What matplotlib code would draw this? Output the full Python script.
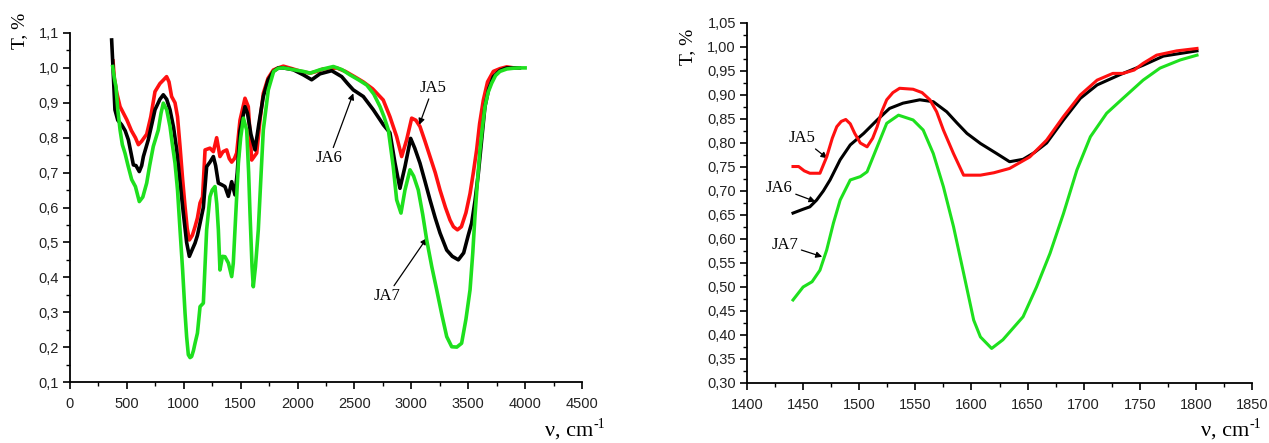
import matplotlib
matplotlib.use("Agg")
import matplotlib.pyplot as plt
from matplotlib.ticker import MultipleLocator, FuncFormatter

# ---------------- data: left panel (full spectrum) ----------------
ja5_full_x = [378, 390, 410, 440, 470, 500, 540, 575, 601, 630, 674, 710, 747, 790, 820, 849, 870, 893, 923, 945,
              967, 990, 1011, 1030, 1049, 1075, 1099, 1120, 1143, 1165, 1187, 1230, 1260, 1289, 1318, 1345, 1377, 1400,
              1421, 1445, 1465, 1494, 1515, 1538, 1567, 1597, 1641, 1670, 1699, 1740, 1787, 1830, 1875, 1950, 2030,
              2110, 2170, 2225, 2290, 2344, 2420, 2500, 2577, 2660, 2753, 2812, 2871, 2915, 2959, 3003, 3040, 3076,
              3120, 3164, 3210, 3252, 3300, 3340, 3370, 3405, 3440, 3480, 3516, 3545, 3574, 3600, 3633, 3670, 3721,
              3780, 3838, 3900]
ja5_full_y = [1.02, 0.97, 0.93, 0.889, 0.87, 0.851, 0.82, 0.80, 0.78, 0.79, 0.81, 0.86, 0.932, 0.955, 0.965, 0.975,
              0.96, 0.918, 0.90, 0.86, 0.775, 0.68, 0.603, 0.54, 0.507, 0.52, 0.545, 0.57, 0.613, 0.63, 0.765, 0.77,
              0.76, 0.80, 0.746, 0.76, 0.765, 0.74, 0.73, 0.74, 0.756, 0.85, 0.88, 0.913, 0.889, 0.736, 0.756, 0.85,
              0.927, 0.97, 0.994, 1.0, 1.005, 0.998, 0.99, 0.985, 0.99, 0.997, 0.998, 1.0, 0.99, 0.975, 0.96, 0.94,
              0.908, 0.86, 0.803, 0.746, 0.794, 0.856, 0.85, 0.832, 0.79, 0.746, 0.70, 0.65, 0.60, 0.564, 0.545,
              0.536, 0.545, 0.585, 0.64, 0.70, 0.765, 0.84, 0.908, 0.96, 0.99, 0.998, 1.003, 1.0]

ja6_full_x = [366, 375, 385, 395, 420, 454, 485, 513, 540, 557, 580, 609, 630, 645, 688, 720, 747, 790, 820, 850,
              879, 910, 938, 965, 996, 1025, 1049, 1075, 1099, 1120, 1143, 1172, 1201, 1230, 1260, 1280, 1304, 1335,
              1362, 1392, 1421, 1450, 1470, 1494, 1538, 1560, 1590, 1626, 1660, 1699, 1740, 1787, 1830, 1875, 1960,
              2051, 2124, 2197, 2300, 2388, 2440, 2490, 2578, 2666, 2754, 2812, 2856, 2900, 2944, 2994, 3030, 3076,
              3120, 3164, 3210, 3252, 3311, 3360, 3413, 3460, 3500, 3530, 3560, 3589, 3620, 3647, 3680, 3721, 3780,
              3838, 3900, 3950]
ja6_full_y = [1.08, 1.02, 0.95, 0.88, 0.85, 0.837, 0.82, 0.794, 0.75, 0.722, 0.72, 0.703, 0.72, 0.746, 0.794, 0.84,
              0.88, 0.91, 0.923, 0.91, 0.88, 0.83, 0.765, 0.68, 0.584, 0.50, 0.46, 0.48, 0.498, 0.52, 0.555, 0.60,
              0.717, 0.73, 0.746, 0.72, 0.67, 0.665, 0.66, 0.632, 0.674, 0.636, 0.70, 0.82, 0.889, 0.87, 0.81, 0.765,
              0.84, 0.918, 0.965, 0.99, 1.0, 1.0, 0.995, 0.98, 0.966, 0.983, 0.992, 0.975, 0.955, 0.937, 0.918, 0.88,
              0.837, 0.814, 0.728, 0.655, 0.717, 0.798, 0.77, 0.727, 0.675, 0.622, 0.57, 0.527, 0.478, 0.46, 0.45,
              0.47, 0.52, 0.555, 0.62, 0.698, 0.80, 0.889, 0.94, 0.975, 0.993, 1.0, 1.0, 1.0]

ja7_full_x = [375, 390, 404, 420, 440, 460, 483, 510, 542, 575, 609, 640, 674, 700, 732, 776, 800, 820, 850, 879,
              900, 923, 945, 967, 990, 1011, 1025, 1040, 1055, 1069, 1085, 1099, 1120, 1143, 1172, 1185, 1201, 1230,
              1250, 1274, 1290, 1304, 1318, 1340, 1362, 1392, 1421, 1435, 1450, 1480, 1500, 1524, 1553, 1570, 1582,
              1600, 1611, 1630, 1655, 1680, 1699, 1743, 1790, 1831, 1875, 1960, 2050, 2110, 2200, 2315, 2390, 2461,
              2540, 2608, 2670, 2725, 2760, 2798, 2841, 2871, 2909, 2944, 2988, 3020, 3061, 3100, 3135, 3180, 3223,
              3270, 3311, 3355, 3400, 3442, 3480, 3516, 3540, 3559, 3580, 3603, 3625, 3647, 3675, 3706, 3740, 3779,
              3840, 3896, 3950, 4000]
ja7_full_y = [1.004, 0.97, 0.946, 0.88, 0.822, 0.78, 0.756, 0.72, 0.68, 0.66, 0.617, 0.63, 0.67, 0.72, 0.775, 0.822,
              0.87, 0.899, 0.88, 0.832, 0.78, 0.727, 0.65, 0.536, 0.42, 0.298, 0.23, 0.178, 0.17, 0.173, 0.19, 0.211,
              0.24, 0.316, 0.326, 0.42, 0.536, 0.631, 0.65, 0.66, 0.61, 0.536, 0.421, 0.46, 0.459, 0.441, 0.402, 0.44,
              0.536, 0.727, 0.80, 0.856, 0.822, 0.70, 0.584, 0.43, 0.373, 0.43, 0.536, 0.70, 0.822, 0.937, 0.99,
              0.999, 1.0, 0.995, 0.99, 0.985, 0.995, 1.004, 0.995, 0.98, 0.965, 0.951, 0.925, 0.889, 0.86, 0.822,
              0.717, 0.622, 0.584, 0.65, 0.708, 0.69, 0.65, 0.58, 0.507, 0.43, 0.364, 0.29, 0.23, 0.201, 0.2, 0.211,
              0.28, 0.364, 0.47, 0.574, 0.67, 0.765, 0.83, 0.889, 0.93, 0.956, 0.978, 0.99, 0.997, 0.999, 1.0, 1.0]

# ---------------- data: right panel (1440-1800 cm-1) ----------------
ja5_zoom_x = [1441, 1446, 1451, 1456, 1465, 1471, 1476, 1480, 1484, 1488, 1492, 1496, 1501, 1507, 1512, 1516, 1520,
              1524.5, 1530, 1536, 1548, 1556, 1563, 1569, 1575, 1584, 1593, 1600, 1608, 1620, 1634, 1652, 1667, 1682,
              1697, 1712, 1726, 1735, 1745, 1753, 1765, 1783, 1801]
ja5_zoom_y = [0.751, 0.751, 0.742, 0.737, 0.737, 0.771, 0.81, 0.834, 0.845, 0.849, 0.84, 0.82, 0.80, 0.792, 0.81,
              0.834, 0.865, 0.89, 0.905, 0.914, 0.912, 0.905, 0.89, 0.865, 0.827, 0.778, 0.733, 0.733, 0.733, 0.738,
              0.747, 0.771, 0.806, 0.855, 0.9, 0.931, 0.945, 0.945, 0.952, 0.966, 0.983, 0.992, 0.997]

ja6_zoom_x = [1441, 1450, 1456, 1462, 1468, 1474, 1483, 1492, 1504, 1516, 1527, 1539, 1554, 1566, 1578, 1587, 1596,
              1608, 1622.5, 1634, 1646, 1656, 1667, 1682, 1697, 1712, 1732, 1753, 1771, 1801]
ja6_zoom_y = [0.654, 0.662, 0.667, 0.681, 0.70, 0.723, 0.765, 0.796, 0.820, 0.848, 0.872, 0.883, 0.89, 0.886, 0.865,
              0.842, 0.82, 0.799, 0.778, 0.761, 0.766, 0.78, 0.80, 0.848, 0.893, 0.921, 0.942, 0.962, 0.981, 0.992]

ja7_zoom_x = [1441, 1450, 1458, 1465, 1471, 1477, 1483, 1492, 1501, 1507, 1516, 1524.5, 1535, 1548, 1557, 1566, 1575,
              1584, 1593, 1602, 1608, 1618, 1628, 1646, 1658, 1670, 1682, 1694, 1706, 1720.5, 1735, 1753, 1768, 1786,
              1801]
ja7_zoom_y = [0.473, 0.50, 0.511, 0.535, 0.577, 0.633, 0.681, 0.723, 0.730, 0.74, 0.792, 0.841, 0.858, 0.848, 0.827,
              0.778, 0.709, 0.626, 0.529, 0.431, 0.396, 0.372, 0.39, 0.438, 0.50, 0.57, 0.653, 0.744, 0.813, 0.862,
              0.893, 0.931, 0.956, 0.973, 0.983]

series_names = ["JA5", "JA6", "JA7"]

# ---------------- styling ----------------
RED = "#ff1010"
BLACK = "#000000"
GREEN = "#1ee01e"
SANS = ["Liberation Sans", "DejaVu Sans"]
SERIF = ["Liberation Serif", "DejaVu Serif"]

fig = plt.figure(figsize=(12.69, 4.43), dpi=100)
axL = fig.add_axes([70 / 1269, 1 - 382 / 443, 512 / 1269, 349 / 443])
axR = fig.add_axes([747 / 1269, 1 - 383 / 443, 505 / 1269, 360 / 443])


def comma_fmt(decimals):
    def f(v, pos):
        return f"{v:.{decimals}f}".replace(".", ",")
    return FuncFormatter(f)


for ax in (axL, axR):
    for s in ("top", "right"):
        ax.spines[s].set_visible(False)
    for s in ("left", "bottom"):
        ax.spines[s].set_linewidth(1.3)
    ax.tick_params(which="major", direction="out", length=5, width=1.2, labelsize=10.5,
                   colors="black", labelcolor="#222222")
    ax.tick_params(which="minor", direction="out", length=3, width=1.0)
    ax.tick_params(axis="x", which="major", pad=6)
    ax.tick_params(axis="y", which="major", pad=3)

# left panel
lw = 2.6
axL.plot(ja6_full_x, ja6_full_y, color=BLACK, lw=lw, zorder=3)
axL.plot(ja5_full_x, ja5_full_y, color=RED, lw=lw, zorder=2)
axL.plot(ja7_full_x, ja7_full_y, color=GREEN, lw=lw, zorder=4)
axL.set_xlim(0, 4500)
axL.set_ylim(0.1, 1.1)
axL.xaxis.set_major_locator(MultipleLocator(500))
axL.xaxis.set_minor_locator(MultipleLocator(250))
axL.yaxis.set_major_locator(MultipleLocator(0.1))
axL.yaxis.set_minor_locator(MultipleLocator(0.05))
axL.yaxis.set_major_formatter(comma_fmt(1))
axL.xaxis.set_major_formatter(FuncFormatter(lambda v, p: f"{int(round(v))}"))

# right panel
lw2 = 2.2
axR.plot(ja6_zoom_x, ja6_zoom_y, color=BLACK, lw=lw2, zorder=3)
axR.plot(ja5_zoom_x, ja5_zoom_y, color=RED, lw=lw2, zorder=4)
axR.plot(ja7_zoom_x, ja7_zoom_y, color=GREEN, lw=lw2, zorder=2)
axR.set_xlim(1400, 1850)
axR.set_ylim(0.30, 1.05)
axR.xaxis.set_major_locator(MultipleLocator(50))
axR.xaxis.set_minor_locator(MultipleLocator(25))
axR.yaxis.set_major_locator(MultipleLocator(0.05))
axR.yaxis.set_minor_locator(MultipleLocator(0.025))
axR.yaxis.set_major_formatter(comma_fmt(2))
axR.xaxis.set_major_formatter(FuncFormatter(lambda v, p: f"{int(round(v))}"))

for ax in (axL, axR):
    for lab in ax.get_xticklabels() + ax.get_yticklabels():
        lab.set_family(SANS)

# axis titles
axL.text(-0.098, 1.006, "T, %", transform=axL.transAxes, rotation=90, ha="center", va="center",
         family=SERIF, fontsize=14)
axR.text(-0.117, 0.933, "T, %", transform=axR.transAxes, rotation=90, ha="center", va="center",
         family=SERIF, fontsize=14)
for right_px in (593, 1249):
    fig.text(right_px / 1269, 1 - 436 / 443, "ν, cm", ha="right", va="baseline",
             family=SERIF, fontsize=16)
    fig.text((right_px + 1) / 1269, 1 - 428 / 443, "-1", ha="left", va="baseline",
             family=SERIF, fontsize=10)

arrow = dict(arrowstyle="-|>", color="black", lw=0.9, mutation_scale=9, shrinkA=0, shrinkB=0)
# left labels
axL.annotate(series_names[0], xy=(3070, 0.837), xytext=(3188, 0.942), ha="center", va="center",
             family=SERIF, fontsize=12, arrowprops=arrow)
axL.annotate(series_names[1], xy=(2490, 0.927), xytext=(2279, 0.741), ha="center", va="center",
             family=SERIF, fontsize=12, arrowprops=arrow)
axL.annotate(series_names[2], xy=(3135, 0.512), xytext=(2783, 0.345), ha="center", va="center",
             family=SERIF, fontsize=12, arrowprops=arrow)
# right labels
axR.annotate(series_names[0], xy=(1471.5, 0.768), xytext=(1449, 0.81), ha="center", va="center",
             family=SERIF, fontsize=12, arrowprops=arrow)
axR.annotate(series_names[1], xy=(1461, 0.678), xytext=(1429, 0.706), ha="center", va="center",
             family=SERIF, fontsize=12, arrowprops=arrow)
axR.annotate(series_names[2], xy=(1467, 0.563), xytext=(1434, 0.588), ha="center", va="center",
             family=SERIF, fontsize=12, arrowprops=arrow)

fig.savefig("out.png", dpi=100)
